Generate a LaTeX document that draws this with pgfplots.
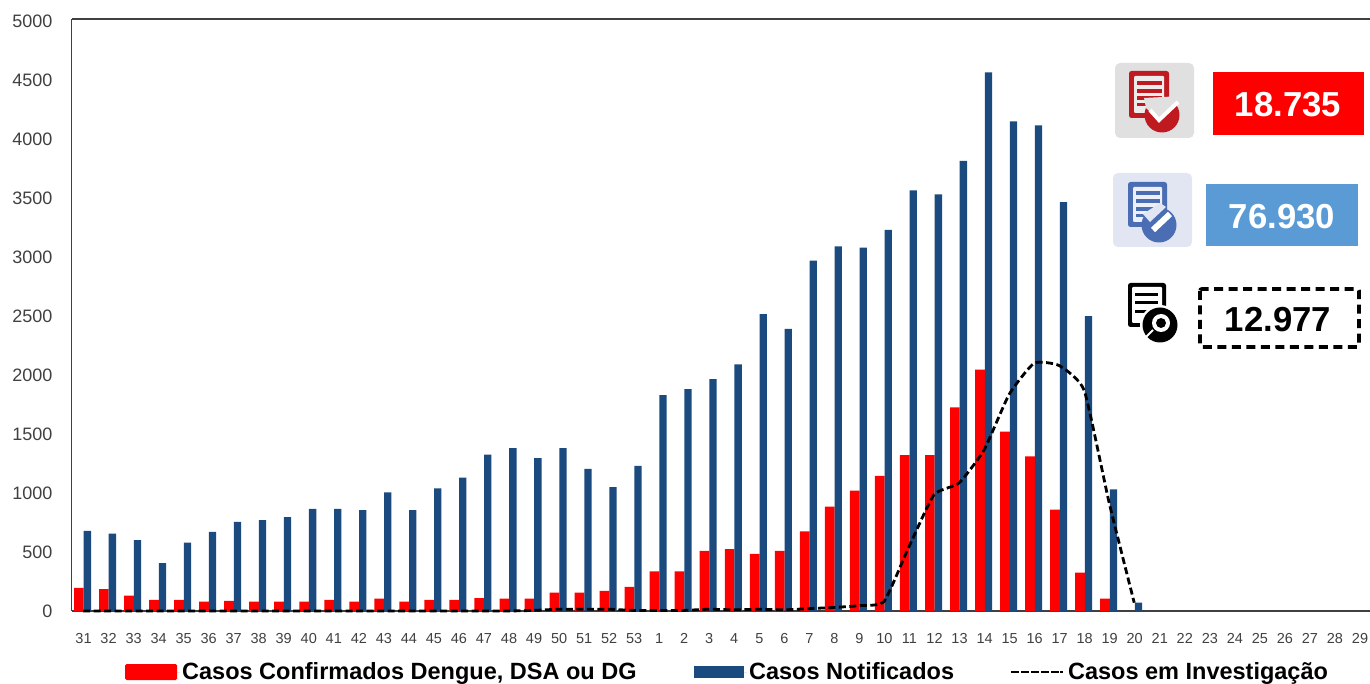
\documentclass[border=0pt]{standalone}
\usepackage{pgfplots}
\pgfplotsset{compat=1.18}
\usepackage{pgfplotstable}
\usepackage{fontspec}
\setmainfont{Liberation Sans}
\definecolor{barred}{HTML}{FF0000}
\definecolor{barblue}{HTML}{1B4A7E}
\definecolor{txtgray}{HTML}{404040}
\definecolor{boxblue}{HTML}{5B9BD5}
\definecolor{iconred}{HTML}{BE1A20}
\definecolor{iconblue}{HTML}{4A6DB4}
\definecolor{bgred}{HTML}{E0E0E0}
\definecolor{bgblue}{HTML}{E2E6F2}
\pgfplotstableread{
idx conf notif inv
0 195 680 0
1 185 655 0
2 130 600 0
3 95 405 0
4 95 580 0
5 80 670 0
6 85 755 0
7 80 770 0
8 80 795 0
9 80 865 0
10 95 865 0
11 80 855 0
12 105 1005 0
13 80 855 0
14 95 1040 0
15 95 1130 0
16 110 1325 0
17 105 1380 0
18 105 1295 5
19 155 1380 15
20 155 1205 15
21 170 1050 15
22 205 1230 5
23 335 1830 5
24 335 1880 5
25 510 1965 15
26 525 2090 10
27 485 2515 15
28 510 2390 10
29 675 2970 20
30 885 3090 30
31 1020 3080 45
32 1145 3230 80
33 1320 3565 545
34 1320 3530 985
35 1725 3815 1085
36 2045 4565 1365
37 1520 4150 1835
38 1310 4115 2100
39 860 3465 2080
40 325 2500 1870
41 105 1030 915
42 0 70 70
}\datatable
\begin{document}
\begin{tikzpicture}[x=1pt,y=1pt]
\useasboundingbox (0,0) rectangle (1370,683);
\begin{axis}[
  at={(71.5pt,72pt)},anchor=south west,
  scale only axis,width=1298.5pt,height=592pt,
  xmin=-0.46,xmax=51.42,ymin=0,ymax=5017,
  axis lines=left,
  axis line style={-,draw=txtgray,line width=1.8pt},
  clip=false,
  xtick={0,...,51},
  xticklabels={31,32,33,34,35,36,37,38,39,40,41,42,43,44,45,46,47,48,49,50,51,52,53,1,2,3,4,5,6,7,8,9,10,11,12,13,14,15,16,17,18,19,20,21,22,23,24,25,26,27,28,29},
  ytick={0,500,...,5000},
  major tick length=0pt,
  tick label style={text=txtgray},
  xticklabel style={font=\fontsize{14.5}{14.5}\selectfont,yshift=-19pt,xshift=0.5pt},
  yticklabel style={font=\fontsize{18}{18}\selectfont,xshift=-15.5pt},
  /pgf/number format/assume math mode=true,
  /pgf/number format/1000 sep={},
  legend columns=3,
  legend style={at={(50.5pt,-61pt)},anchor=west,draw=none,fill=none,font=\bfseries\fontsize{23.5}{23.5}\selectfont,
    /tikz/every even column/.append style={column sep=55pt}},
]
\addplot[ybar,bar width=9.7pt,bar shift=-4.15pt,fill=barred,draw=none,
  legend image code/.code={\path (0pt,0pt) -- (55pt,0pt);\fill[barred,rounded corners=1.5pt] (0pt,-8pt) rectangle (52pt,8pt);}]
  table[x=idx,y=conf]{\datatable};
\addlegendentry{Casos Confirmados Dengue, DSA ou DG}
\addplot[ybar,bar width=7.3pt,bar shift=4.35pt,fill=barblue,draw=none,
  legend image code/.code={\path (0pt,0pt) -- (53.5pt,0pt);\fill[barblue] (0pt,-6pt) rectangle (50pt,6pt);}]
  table[x=idx,y=notif]{\datatable};
\addlegendentry{Casos Notificados}
\addplot[black,line width=2.8pt,dash pattern=on 7pt off 3.5pt,smooth,tension=0.3,
  legend image code/.code={\path[draw=none] (0pt,0pt) -- (55pt,0pt);
    \foreach \xx in {0,10,20,30,40}{\fill[black,draw=none] (\xx pt,-1.2pt) rectangle ++(7.5pt,2.4pt);}
    \fill[black,draw=none] (49pt,-1.2pt) rectangle ++(2.5pt,2.4pt);}]
  table[x=idx,y=inv]{\datatable};
\addlegendentry{Casos em Investigação}
\draw[txtgray,line width=1.8pt] (axis cs:-0.46,5017) -- (axis cs:51.42,5017);
\end{axis}
\begin{scope}[x=1pt,y=-1pt,yshift=683pt]
 % first panel
 \fill[bgred,rounded corners=5pt] (1115,63) rectangle (1194,138);
 \fill[barred] (1213,72) rectangle (1364,135);
 \node[text=white,font=\bfseries\fontsize{34.7}{34.7}\selectfont] at (1288,105) {18.735};
 \fill[iconred,rounded corners=2.5pt] (1129,71) rectangle (1169,118);
 \fill[bgred!60!white,rounded corners=1pt] (1134,76) rectangle (1164,113);
 \foreach \yy in {83,91,98}{\draw[iconred,line width=3.2pt] (1137,\yy) -- (1162,\yy);}
 \draw[iconred,line width=3pt] (1137,105) -- (1146,105);
 \fill[iconred] (1162,115) circle (17.5);
 \fill[bgred] (1144,98) -- (1146,108) -- (1159,120) -- (1182,96) -- cycle;
 \draw[white,line width=4pt] (1150,110) -- (1159,120) -- (1178,102);
 % second panel
 \fill[bgblue,rounded corners=5pt] (1113,173) rectangle (1192,247);
 \fill[boxblue] (1206,184) rectangle (1358,246);
 \node[text=white,font=\bfseries\fontsize{34.7}{34.7}\selectfont] at (1282,217) {76.930};
 \fill[iconblue,rounded corners=2.5pt] (1128,182) rectangle (1167,227);
 \fill[bgblue!60!white,rounded corners=1pt] (1133,187) rectangle (1162,222);
 \foreach \yy in {193,201,209}{\draw[iconblue,line width=3.2pt] (1136,\yy) -- (1160,\yy);}
 \draw[iconblue,line width=3pt] (1136,216) -- (1146,216);
 \fill[iconblue] (1159,225) circle (17.5);
 \fill[bgblue] (1168,206) -- (1180,216) -- (1180,204) -- cycle;
 \fill[bgblue] (1143,214) -- (1150,222) -- (1166,207) -- (1160,203) -- cycle;
 \draw[white,line width=6pt] (1153,230) -- (1170,214);
 % third panel
 \draw[black,line width=3.8pt,rounded corners=2pt,dash pattern=on 9pt off 5.5pt] (1200,289) rectangle (1359,347);
 \node[text=black,font=\bfseries\fontsize{34.7}{34.7}\selectfont] at (1278,320) {12.977};
 \fill[black,rounded corners=2.5pt] (1128,283) rectangle (1166,327);
 \fill[white,rounded corners=1pt] (1132,287) rectangle (1162,323);
 \foreach \yy in {295,303,312}{\draw[black,line width=3pt] (1135,\yy) -- (1158,\yy);}
 \fill[white] (1160,325) circle (20);
 \fill[black] (1160,325) circle (17.5);
 \fill[white] (1161,323) circle (9);
 \fill[black] (1161,323) circle (5);
 \draw[white,line width=2pt] (1145,338) -- (1153,330);
\end{scope}
\end{tikzpicture}
\end{document}
